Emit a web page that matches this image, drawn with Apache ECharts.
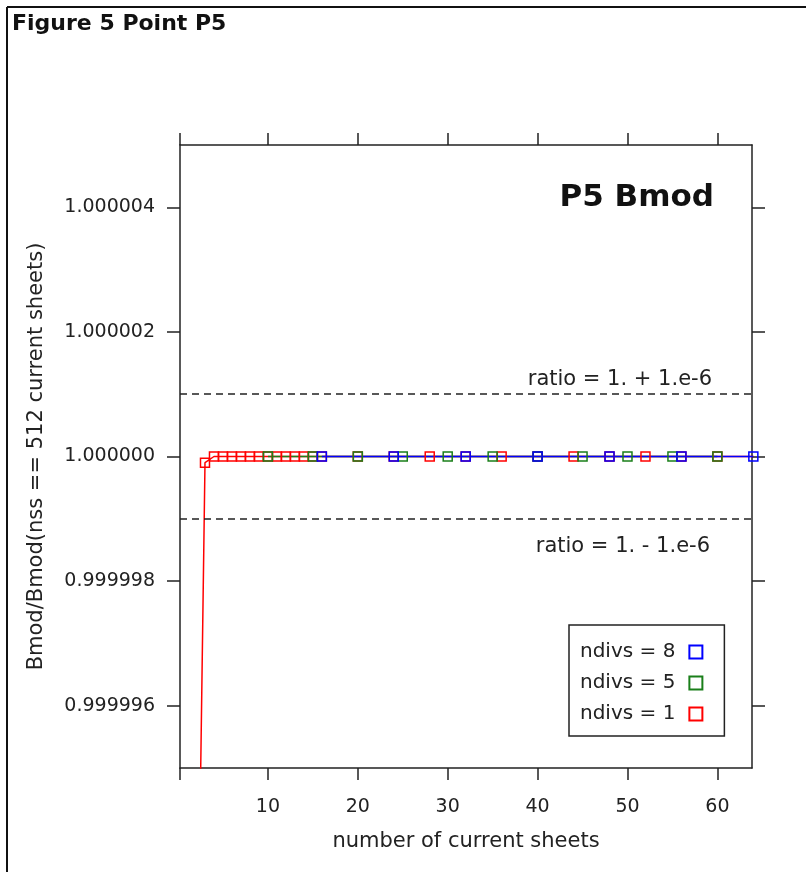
<!DOCTYPE html>
<html>
<head>
<meta charset="utf-8">
<script src="https://cdn.jsdelivr.net/npm/echarts@6/dist/echarts.min.js"></script>
<style>
  html, body { margin: 0; padding: 0; background: #fff; }
  #chart { width: 806px; height: 872px; }
</style>
</head>
<body>
<div id="chart"></div>
<script>
// axis ranges and ticks
const xMin = 0.22
const xMax = 63.85
const xTicks = [10, 20, 30, 40, 50, 60]
const yMin = 0.999995
const yMax = 1.000005
const yTicks = [0.999996, 0.999998, 1.0, 1.000002, 1.000004]
const refLines = [1.000001, 0.999999]
const refLabels = ['ratio = 1. + 1.e-6', 'ratio = 1. - 1.e-6']

// Bmod ratio vs number of current sheets
const ndiv1X = [2, 3, 4, 5, 6, 7, 8, 9, 10, 11, 12, 13, 14, 15, 16, 20, 24, 28, 32, 36, 40, 44, 48, 52, 56, 60, 64]
const ndiv1Y = [0.9999896, 0.9999999, 1, 1, 1, 1, 1, 1, 1, 1, 1, 1, 1, 1, 1, 1, 1, 1, 1, 1, 1, 1, 1, 1, 1, 1, 1]
const ndiv5X = [10, 15, 20, 25, 30, 35, 40, 45, 50, 55, 60]
const ndiv5Y = [1, 1, 1, 1, 1, 1, 1, 1, 1, 1, 1]
const ndiv8X = [16, 24, 32, 40, 48, 56, 64]
const ndiv8Y = [1, 1, 1, 1, 1, 1, 1]

const FONT = 'DejaVu Sans'
const INK = '#222'

const zip = (xs, ys) => xs.map((x, i) => [x, ys[i]])

const chart = echarts.init(document.getElementById('chart'), null, { renderer: 'canvas' })

const axisLine = { show: true, lineStyle: { color: INK, width: 1.5 } }
const tickStyle = { color: INK, width: 1.5 }

const makeSeries = (name, color, data, clip) => ({
  name,
  type: 'line',
  data,
  clip,
  symbol: 'rect',
  symbolSize: 9,
  lineStyle: { color, width: 1.5 },
  itemStyle: { color: 'rgba(255,255,255,0)', borderColor: color, borderWidth: 1.5 },
  emphasis: { disabled: true }
})

const ratioSeries = makeSeries('ndivs = 1', '#ff0000', zip(ndiv1X, ndiv1Y), true)
ratioSeries.markLine = {
  silent: true,
  symbol: 'none',
  precision: 10,
  label: { show: false },
  lineStyle: { color: INK, width: 1.5, type: [7, 5] },
  data: refLines.map(v => ({ yAxis: v }))
}

chart.setOption({
  animation: false,
  backgroundColor: '#fff',
  grid: { left: 180, right: 54, top: 145, bottom: 104, containLabel: false, outerBoundsMode: 'none' },
  xAxis: [
    {
      type: 'value',
      min: xMin,
      max: xMax,
      position: 'bottom',
      axisLine,
      axisTick: { show: true, length: 12, customValues: [xMin, ...xTicks], lineStyle: tickStyle },
      axisLabel: {
        customValues: xTicks,
        margin: 30,
        fontFamily: FONT,
        fontSize: 19,
        color: INK,
        formatter: v => String(Math.round(v))
      },
      splitLine: { show: false },
      name: 'number of current sheets',
      nameLocation: 'middle',
      nameGap: 63,
      nameTextStyle: { fontFamily: FONT, fontSize: 21, color: INK }
    },
    {
      type: 'value',
      min: xMin,
      max: xMax,
      position: 'top',
      axisLine,
      axisTick: { show: true, length: 12, customValues: [xMin, ...xTicks], lineStyle: tickStyle },
      axisLabel: { show: false },
      splitLine: { show: false }
    }
  ],
  yAxis: [
    {
      type: 'value',
      min: yMin,
      max: yMax,
      position: 'left',
      axisLine,
      axisTick: { show: true, length: 13, customValues: yTicks, lineStyle: tickStyle },
      axisLabel: {
        customValues: yTicks,
        margin: 25,
        fontFamily: FONT,
        fontSize: 19,
        color: INK,
        formatter: v => v.toFixed(6)
      },
      splitLine: { show: false },
      name: 'Bmod/Bmod(nss == 512 current sheets)',
      nameLocation: 'middle',
      nameRotate: 90,
      nameGap: 133,
      nameTextStyle: { fontFamily: FONT, fontSize: 21, color: INK }
    },
    {
      type: 'value',
      min: yMin,
      max: yMax,
      position: 'right',
      axisLine,
      axisTick: { show: true, length: 13, customValues: yTicks, lineStyle: tickStyle },
      axisLabel: { show: false },
      splitLine: { show: false }
    }
  ],
  legend: {
    orient: 'vertical',
    left: 569,
    top: 625,
    align: 'right',
    icon: 'rect',
    itemWidth: 13,
    itemHeight: 13,
    itemGap: 11,
    padding: [17, 21, 12, 11],
    borderColor: INK,
    borderWidth: 1.5,
    backgroundColor: '#fff',
    selectedMode: false,
    data: ['ndivs = 8', 'ndivs = 5', 'ndivs = 1'],
    textStyle: { fontFamily: FONT, fontSize: 20, color: INK, lineHeight: 20, padding: [0, 9, 0, 0] }
  },
  graphic: [
    { type: 'line', shape: { x1: 7, y1: 7, x2: 806, y2: 7 }, style: { stroke: '#111', lineWidth: 2 } },
    { type: 'line', shape: { x1: 7, y1: 7, x2: 7, y2: 872 }, style: { stroke: '#111', lineWidth: 2 } },
    {
      type: 'text', left: 12, top: 13,
      style: { text: 'Figure 5 Point P5', font: 'bold 22px "DejaVu Sans"', fill: '#111' }
    },
    {
      type: 'text', right: 92, top: 182,
      style: { text: 'P5 Bmod', font: 'bold 31px "DejaVu Sans"', fill: '#111' }
    },
    {
      type: 'text', right: 94, top: 369,
      style: { text: refLabels[0], font: '21px "DejaVu Sans"', fill: INK }
    },
    {
      type: 'text', right: 96, top: 536,
      style: { text: refLabels[1], font: '21px "DejaVu Sans"', fill: INK }
    }
  ],
  series: [
    ratioSeries,
    makeSeries('ndivs = 5', '#1a7f1a', zip(ndiv5X, ndiv5Y), true),
    makeSeries('ndivs = 8', '#0000ff', zip(ndiv8X, ndiv8Y), false)
  ]
})
</script>
</body>
</html>
